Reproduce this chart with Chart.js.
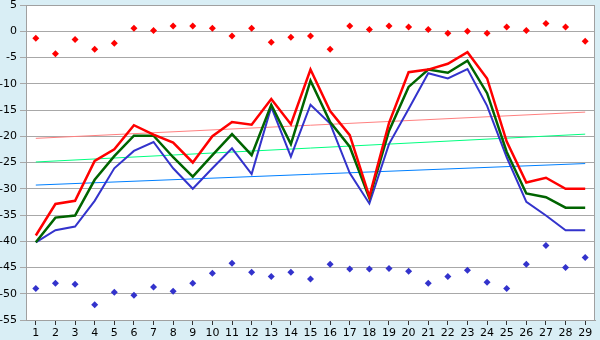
<!DOCTYPE html>
<html>
<head>
<meta charset="utf-8">
<script src="https://cdn.jsdelivr.net/npm/chart.js@4/dist/chart.umd.min.js"></script>
<style>
    html, body {
        margin: 0;
        padding: 0;
        background: #d9eef5;
    }
    canvas {
        display: block;
    }
</style>
</head>
<body>
<canvas id="grafico" width="600" height="340"></canvas>
<script>

const categorias = [
    '1', '2', '3', '4', '5', '6', '7', '8', '9', '10',
    '11', '12', '13', '14', '15', '16', '17', '18', '19', '20',
    '21', '22', '23', '24', '25', '26', '27', '28', '29'
];

const linhaVermelha = [
    -38.9, -32.9, -32.3, -24.7, -22.5, -17.9, -19.7, -21.2, -25.0, -20.0,
    -17.3, -17.8, -12.9, -17.7, -7.3, -15.2, -19.8, -31.5, -17.5, -7.8,
    -7.3, -6.2, -4.0, -9.0, -21.0, -28.8, -27.9, -30.0, -30.0
];

const linhaVerde = [
    -40.2, -35.5, -35.1, -28.3, -23.8, -19.9, -19.9, -24.0, -27.7, -23.6,
    -19.6, -23.6, -14.0, -21.5, -9.4, -17.3, -22.0, -31.8, -19.0, -10.6,
    -7.3, -7.9, -5.6, -11.8, -23.0, -30.9, -31.6, -33.6, -33.6
];

const linhaAzul = [
    -40.2, -37.9, -37.2, -32.3, -26.1, -22.8, -21.1, -26.1, -30.0, -26.1,
    -22.3, -27.2, -14.4, -23.9, -14.0, -17.6, -27.0, -32.8, -21.5, -14.8,
    -8.0, -9.0, -7.2, -14.2, -24.0, -32.5, -35.1, -37.9, -37.9
];

const pontosVermelhos = [
    -1.35, -4.3, -1.55, -3.45, -2.3, 0.55, 0.15, 1.0, 1.0, 0.55,
    -0.9, 0.55, -2.1, -1.15, -0.9, -3.45, 1.0, 0.35, 1.0, 0.8,
    0.35, -0.4, 0.0, -0.4, 0.8, 0.15, 1.5, 0.8, -1.9
];

const pontosAzuis = [
    -49.0, -48.0, -48.2, -52.1, -49.7, -50.3, -48.7, -49.5, -48.0, -46.1,
    -44.2, -45.9, -46.7, -45.9, -47.2, -44.4, -45.3, -45.3, -45.2, -45.7,
    -48.0, -46.7, -45.5, -47.8, -49.0, -44.4, -40.8, -45.0, -43.1
];

// inicio e fim das linhas de tendencia
const tendenciaVermelha = [-20.4, -15.4];
const tendenciaVerde = [-24.9, -19.6];
const tendenciaAzul = [-29.3, -25.2];

const ticksY = [5, 0, -5, -10, -15, -20, -25, -30, -35, -40, -45, -50, -55];

const fonte = {
    family: 'DejaVu Sans',
    size: 11
};

function tendencia(valores) {
    return [
        { x: categorias[0], y: valores[0] },
        { x: categorias[categorias.length - 1], y: valores[1] }
    ];
}

function serieLinha(dados, cor, espessura, ordem) {
    return {
        data: dados,
        borderColor: cor,
        backgroundColor: cor,
        borderWidth: espessura,
        pointRadius: 0,
        tension: 0,
        fill: false,
        order: ordem
    };
}

function seriePontos(dados, cor) {
    return {
        data: dados,
        showLine: false,
        borderColor: cor,
        backgroundColor: cor,
        pointStyle: 'rectRot',
        pointRadius: 3.5,
        pointBorderWidth: 0,
        order: 0
    };
}

const fundoArea = {
    id: 'fundoArea',
    beforeDraw(chart) {
        const { ctx, chartArea } = chart;
        ctx.save();
        ctx.fillStyle = '#ffffff';
        ctx.fillRect(
            chartArea.left,
            chartArea.top,
            chartArea.right - chartArea.left,
            chartArea.bottom - chartArea.top
        );
        ctx.restore();
    },
    afterDraw(chart) {
        const { ctx, chartArea } = chart;
        ctx.save();
        ctx.strokeStyle = '#a0a0a0';
        ctx.lineWidth = 1;
        ctx.strokeRect(
            chartArea.left + 0.5,
            chartArea.top + 0.5,
            chartArea.right - chartArea.left - 1,
            chartArea.bottom - chartArea.top
        );
        ctx.restore();
    }
};

new Chart(
    document.getElementById('grafico'),
    {
        type: 'line',
        data: {
            labels: categorias,
            datasets: [
                serieLinha(tendencia(tendenciaVermelha), '#ff8080', 1, 5),
                serieLinha(tendencia(tendenciaVerde), '#00ff80', 1, 5),
                serieLinha(tendencia(tendenciaAzul), '#0080ff', 1, 5),
                serieLinha(linhaAzul, '#3333cc', 2, 3),
                serieLinha(linhaVerde, '#006400', 2.5, 2),
                serieLinha(linhaVermelha, '#ff0000', 2.5, 1),
                seriePontos(pontosVermelhos, '#ff0000'),
                seriePontos(pontosAzuis, '#3333cc')
            ]
        },
        options: {
            responsive: false,
            animation: false,
            layout: {
                padding: { top: 5, right: 5, left: 0, bottom: 0 }
            },
            plugins: {
                legend: { display: false },
                tooltip: { enabled: false }
            },
            scales: {
                x: {
                    offset: true,
                    grid: {
                        offset: false,
                        drawOnChartArea: false,
                        tickLength: 5,
                        tickColor: '#333333'
                    },
                    border: { color: '#a0a0a0' },
                    ticks: {
                        color: '#000000',
                        font: fonte,
                        autoSkip: false,
                        maxRotation: 0,
                        padding: 2
                    },
                    afterFit(scale) {
                        scale.height = 20;
                    }
                },
                y: {
                    min: ticksY[ticksY.length - 1],
                    max: ticksY[0],
                    grid: {
                        color: '#a8a8a8',
                        tickLength: 6
                    },
                    border: { color: '#a0a0a0' },
                    afterBuildTicks(scale) {
                        scale.ticks = ticksY.map(v => ({ value: v }));
                    },
                    ticks: {
                        color: '#000000',
                        font: fonte,
                        padding: 3
                    },
                    afterFit(scale) {
                        scale.width = 26;
                        scale.paddingTop = 0;
                        scale.paddingBottom = 0;
                    }
                }
            }
        },
        plugins: [fundoArea]
    }
);
</script>
</body>
</html>
